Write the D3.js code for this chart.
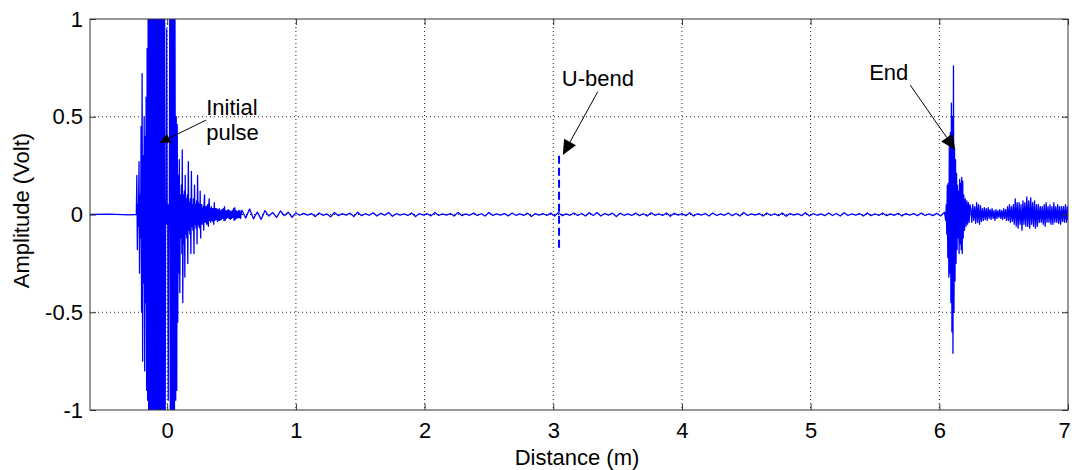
<!DOCTYPE html>
<html>
<head>
<meta charset="utf-8">
<script src="https://cdn.jsdelivr.net/npm/d3@7"></script>
<style>
  body { margin: 0; background: #fff; }
  text { font-family: "Liberation Sans", Arial, sans-serif; fill: #000; }
</style>
</head>
<body>
<div class="chart"></div>
<script>
// axis setup
var xDomain = [-0.6, 7];
var yDomain = [-1, 1];
var xTicks = [0, 1, 2, 3, 4, 5, 6, 7];
var yTicks = [-1, -0.5, 0, 0.5, 1];
var yTickLabels = ["-1", "-0.5", "0", "0.5", "1"];

// signal pieces, [distance (m), amplitude (V)]
var quiet = [[-0.6, 0], [-0.45, 0.002], [-0.3, -0.002], [-0.24, 0]];

var initialPulse = [
  [-0.236, 0.20], [-0.232, -0.18], [-0.228, 0.05], [-0.224, -0.06], [-0.219, 0.27], [-0.215, -0.30],
  [-0.211, 0.10], [-0.207, -0.12], [-0.203, 0.45], [-0.199, -0.50], [-0.195, 0.72], [-0.191, -0.75],
  [-0.187, 0.30], [-0.183, -0.35], [-0.179, 0.50], [-0.175, -0.80], [-0.171, 0.40], [-0.167, -0.45],
  [-0.164, 0.60], [-0.160, -0.90], [-0.156, 0.85], [-0.152, -0.95],
  [-0.148, 1.1], [-0.144, -1.1], [-0.140, 1.1], [-0.136, -1.1], [-0.132, 1.1], [-0.128, -1.1],
  [-0.124, 1.1], [-0.120, -1.1], [-0.116, 1.1], [-0.112, -1.1], [-0.108, 1.1], [-0.104, -1.1],
  [-0.100, 1.1], [-0.096, -1.1], [-0.092, 1.1], [-0.088, -1.1], [-0.084, 1.1], [-0.080, -1.1],
  [-0.076, 1.1], [-0.072, -1.1], [-0.068, 1.1], [-0.064, -1.1], [-0.060, 1.1], [-0.056, -1.1],
  [-0.052, 1.1], [-0.048, -1.1], [-0.044, 1.1], [-0.040, -1.1], [-0.036, 1.1], [-0.032, -1.1],
  [-0.028, 1.1], [-0.024, -1.1], [-0.020, 1.1], [-0.016, -1.1],
  [-0.012, 0.05], [-0.008, -0.05], [-0.004, 0.95], [0.000, -0.05], [0.004, 0.05], [0.008, -0.95],
  [0.012, 0.05], [0.016, -0.05],
  [0.020, 1.1], [0.024, -1.1], [0.028, 1.1], [0.032, -1.1], [0.036, 1.1], [0.040, -1.1],
  [0.044, 1.1], [0.048, -1.1], [0.052, 1.1], [0.056, -1.1], [0.060, 1.1],
  [0.066, -0.95], [0.070, 0.50], [0.074, -0.90], [0.078, 0.46], [0.082, -0.55], [0.086, 0.20],
  [0.090, -0.30], [0.094, 0.28], [0.098, -0.40], [0.102, 0.10], [0.106, -0.12], [0.110, 0.15],
  [0.114, -0.20], [0.117, 0.33], [0.121, -0.45], [0.125, 0.10], [0.129, -0.15], [0.133, 0.12],
  [0.137, -0.32], [0.140, 0.20], [0.144, -0.10], [0.148, 0.08], [0.152, -0.12], [0.156, 0.10],
  [0.160, -0.25], [0.164, 0.27], [0.168, -0.08], [0.172, 0.06], [0.176, -0.10], [0.180, 0.08],
  [0.184, -0.20], [0.188, 0.22], [0.192, -0.06], [0.196, 0.05], [0.200, -0.08], [0.204, 0.08],
  [0.208, -0.20], [0.212, 0.15], [0.216, -0.05], [0.220, 0.05], [0.224, -0.07], [0.228, 0.07],
  [0.232, -0.15], [0.236, 0.20], [0.240, -0.05], [0.243, 0.06], [0.246, -0.06], [0.250, 0.05],
  [0.253, -0.07], [0.256, 0.12], [0.260, -0.12], [0.263, 0.05], [0.266, -0.04], [0.269, 0.05],
  [0.272, -0.05], [0.275, 0.03], [0.278, -0.04], [0.281, 0.04], [0.284, -0.08], [0.287, 0.06],
  [0.290, 0.10], [0.293, -0.04], [0.296, -0.04], [0.299, 0.03], [0.302, 0.04], [0.305, -0.03],
  [0.308, -0.05], [0.311, 0.04], [0.314, 0.05], [0.317, -0.03], [0.320, -0.06], [0.323, 0.05],
  [0.326, 0.08], [0.330, -0.03], [0.334, 0.03], [0.338, -0.04], [0.342, 0.04], [0.346, -0.03],
  [0.350, 0.03], [0.354, -0.035], [0.358, 0.03], [0.362, -0.05], [0.366, 0.06], [0.370, -0.03],
  [0.375, 0.03], [0.380, -0.025], [0.385, 0.03], [0.390, -0.035], [0.395, 0.025], [0.400, -0.03],
  [0.405, 0.03], [0.410, -0.03], [0.415, 0.02], [0.420, -0.025], [0.425, 0.025], [0.430, -0.02],
  [0.435, 0.03], [0.440, -0.03], [0.445, 0.04], [0.450, -0.03], [0.455, 0.02], [0.460, -0.02],
  [0.465, 0.02], [0.470, -0.015], [0.475, 0.025], [0.480, -0.02], [0.485, 0.02], [0.490, -0.025],
  [0.495, 0.015], [0.500, -0.02], [0.505, 0.02], [0.510, -0.015], [0.515, 0.03], [0.520, -0.03],
  [0.525, 0.035], [0.530, -0.025], [0.535, 0.02], [0.540, -0.018], [0.545, 0.015], [0.550, -0.018],
  [0.555, 0.02], [0.560, -0.015], [0.565, 0.02], [0.570, -0.02]
];

var travel = [
  [0.58, 0.022], [0.61, -0.018], [0.64, 0.028], [0.67, -0.022], [0.70, 0.012], [0.73, -0.025], [0.76, 0.020], [0.79, -0.008], [0.82, 0.010], [0.85, -0.015],
  [0.88, 0.018], [0.91, -0.006], [0.94, 0.012], [0.97, -0.014], [1.00, 0.008], [1.03, -0.004], [1.06, 0.006], [1.09, -0.003], [1.12, 0.005], [1.15, -0.010],
  [1.18, 0.008], [1.21, -0.004], [1.24, 0.003], [1.27, -0.012], [1.30, 0.010], [1.33, -0.006], [1.36, 0.004], [1.39, -0.003], [1.42, 0.007], [1.45, -0.010],
  [1.48, 0.012], [1.51, -0.006], [1.54, 0.004], [1.57, -0.004], [1.60, 0.009], [1.63, -0.008], [1.66, 0.006], [1.69, -0.004], [1.72, 0.010], [1.75, -0.009],
  [1.78, 0.004], [1.81, -0.003], [1.84, 0.003], [1.87, -0.005], [1.90, 0.008], [1.93, -0.010], [1.96, 0.005], [1.99, -0.003], [2.02, 0.004], [2.05, -0.007],
  [2.08, 0.010], [2.11, -0.005], [2.14, 0.003], [2.17, -0.003], [2.20, 0.005], [2.23, -0.008], [2.26, 0.011], [2.29, -0.006], [2.32, 0.003], [2.35, -0.004],
  [2.38, 0.007], [2.41, -0.005], [2.44, 0.004], [2.47, -0.008], [2.50, 0.010], [2.53, -0.005], [2.56, 0.003], [2.59, -0.003], [2.62, 0.005], [2.65, -0.007],
  [2.68, 0.008], [2.71, -0.004], [2.74, 0.003], [2.77, -0.005], [2.80, 0.007], [2.83, -0.010], [2.86, 0.005], [2.89, -0.003], [2.92, 0.005], [2.95, -0.005],
  [2.98, 0.007], [3.01, -0.008], [3.04, 0.010], [3.07, -0.006], [3.10, 0.003], [3.13, -0.004], [3.16, 0.008], [3.19, -0.005], [3.22, 0.005], [3.25, -0.008],
  [3.28, 0.009], [3.31, -0.005], [3.34, 0.010], [3.37, -0.008], [3.40, 0.005], [3.43, -0.003], [3.46, 0.007], [3.49, -0.010], [3.52, 0.006], [3.55, -0.004],
  [3.58, 0.003], [3.61, -0.005], [3.64, 0.008], [3.67, -0.006], [3.70, 0.004], [3.73, -0.008], [3.76, 0.009], [3.79, -0.004], [3.82, 0.003], [3.85, -0.005],
  [3.88, 0.008], [3.91, -0.009], [3.94, 0.006], [3.97, -0.003], [4.00, 0.005], [4.03, -0.006], [4.06, 0.009], [4.09, -0.008], [4.12, 0.004], [4.15, -0.003],
  [4.18, 0.005], [4.21, -0.008], [4.24, 0.008], [4.27, -0.005], [4.30, 0.003], [4.33, -0.004], [4.36, 0.008], [4.39, -0.006], [4.42, 0.005], [4.45, -0.008],
  [4.48, 0.010], [4.51, -0.005], [4.54, 0.003], [4.57, -0.003], [4.60, 0.005], [4.63, -0.008], [4.66, 0.008], [4.69, -0.005], [4.72, 0.004], [4.75, -0.006],
  [4.78, 0.008], [4.81, -0.009], [4.84, 0.005], [4.87, -0.003], [4.90, 0.004], [4.93, -0.006], [4.96, 0.009], [4.99, -0.008], [5.02, 0.005], [5.05, -0.004],
  [5.08, 0.003], [5.11, -0.006], [5.14, 0.008], [5.17, -0.005], [5.20, 0.005], [5.23, -0.008], [5.26, 0.009], [5.29, -0.005], [5.32, 0.003], [5.35, -0.003],
  [5.38, 0.005], [5.41, -0.008], [5.44, 0.008], [5.47, -0.006], [5.50, 0.004], [5.53, -0.005], [5.56, 0.008], [5.59, -0.006], [5.62, 0.003], [5.65, -0.004],
  [5.68, 0.006], [5.71, -0.008], [5.74, 0.005], [5.77, -0.003], [5.80, 0.005], [5.83, -0.006], [5.86, 0.008], [5.89, -0.005], [5.92, 0.003], [5.95, -0.006],
  [5.98, 0.006], [6.01, -0.008], [6.04, 0.012]
];

var endEcho = [
  [6.050, -0.03], [6.054, 0.05], [6.058, -0.10], [6.062, 0.15], [6.066, -0.22], [6.070, 0.16],
  [6.074, -0.32], [6.078, 0.40], [6.082, -0.30], [6.086, 0.42], [6.090, -0.45], [6.094, 0.57],
  [6.098, -0.60], [6.102, 0.50], [6.106, -0.71], [6.110, 0.76], [6.114, -0.50], [6.118, 0.33],
  [6.122, -0.34], [6.126, 0.28], [6.130, -0.25], [6.134, 0.21], [6.138, -0.18], [6.142, 0.15],
  [6.146, -0.12], [6.150, 0.12], [6.154, -0.20], [6.158, 0.18], [6.162, -0.15], [6.166, 0.16],
  [6.170, -0.18], [6.174, 0.19], [6.178, -0.20], [6.182, 0.17], [6.186, -0.12], [6.190, 0.10],
  [6.196, -0.08], [6.202, 0.08], [6.208, -0.06], [6.214, 0.07], [6.220, -0.05], [6.226, 0.06],
  [6.232, -0.04], [6.238, 0.05]
];

var tail = [
  [6.245, 0.03], [6.2525, -0.04], [6.26, 0.05], [6.2675, -0.03], [6.275, 0.04], [6.2825, -0.045], [6.29, 0.06], [6.2975, -0.04],
  [6.305, 0.05], [6.3125, -0.05], [6.32, 0.045], [6.3275, -0.035], [6.335, 0.03], [6.3425, -0.03], [6.35, 0.035], [6.3575, -0.025],
  [6.365, 0.03], [6.3725, -0.03], [6.38, 0.035], [6.3875, -0.02], [6.395, 0.025], [6.4025, -0.025], [6.41, 0.03], [6.4175, -0.02],
  [6.425, 0.02], [6.4325, -0.03], [6.44, 0.025], [6.4475, -0.02], [6.455, 0.02], [6.4625, -0.015], [6.47, 0.025], [6.4775, -0.02],
  [6.485, 0.02], [6.4925, -0.025], [6.50, 0.03], [6.5075, -0.02], [6.515, 0.025], [6.5225, -0.03], [6.53, 0.04], [6.5375, -0.03],
  [6.545, 0.05], [6.5525, -0.04], [6.56, 0.04], [6.5675, -0.035], [6.575, 0.05], [6.5825, -0.05], [6.59, 0.08], [6.5975, -0.06],
  [6.605, 0.06], [6.6125, -0.07], [6.62, 0.06], [6.6275, -0.05], [6.635, 0.05], [6.6425, -0.08], [6.65, 0.07], [6.6575, -0.05],
  [6.665, 0.06], [6.6725, -0.06], [6.68, 0.09], [6.6875, -0.06], [6.695, 0.07], [6.7025, -0.07], [6.71, 0.085], [6.7175, -0.05],
  [6.725, 0.06], [6.7325, -0.06], [6.74, 0.07], [6.7475, -0.07], [6.755, 0.05], [6.7625, -0.06], [6.77, 0.05], [6.7775, -0.04],
  [6.785, 0.04], [6.7925, -0.04], [6.80, 0.04], [6.8075, -0.05], [6.815, 0.05], [6.8225, -0.06], [6.83, 0.06], [6.8375, -0.04],
  [6.845, 0.04], [6.8525, -0.04], [6.86, 0.05], [6.8675, -0.05], [6.875, 0.04], [6.8825, -0.05], [6.89, 0.06], [6.8975, -0.04],
  [6.905, 0.04], [6.9125, -0.04], [6.92, 0.05], [6.9275, -0.045], [6.935, 0.04], [6.9425, -0.05], [6.95, 0.04], [6.9575, -0.035],
  [6.965, 0.04], [6.9725, -0.04], [6.98, 0.05], [6.9875, -0.04], [6.995, 0.04], [7.0, -0.03]
];

// dashed U-bend echo
var ubendDist = 3.045;
var ubendAmp = [0.30, -0.18];

// annotation labels: text anchor, arrow tail and tip in data units
var annotations = [
  { lines: ["Initial", "pulse"], at: [0.303, 0.509], tail: [0.303, 0.483], tip: [-0.062, 0.366], head: 11 },
  { lines: ["U-bend"], at: [3.066, 0.657], tail: [3.346, 0.628], tip: [3.074, 0.304], head: 15 },
  { lines: ["End"], at: [5.455, 0.688], tail: [5.774, 0.662], tip: [6.125, 0.330], head: 15 }
];

var W = 1072, H = 470;
var margin = { left: 90, top: 19, right: 4, bottom: 60 };
var width = W - margin.left - margin.right,
    height = H - margin.top - margin.bottom;

var svg = d3.select(".chart").append("svg")
  .attr("width", W)
  .attr("height", H);

var g = svg.append("g")
  .attr("transform", "translate(" + margin.left + "," + margin.top + ")");

var x = d3.scaleLinear().domain(xDomain).range([0, width]);
var y = d3.scaleLinear().domain(yDomain).range([height, 0]);

svg.append("defs").append("clipPath").attr("id", "plotclip")
  .append("rect").attr("width", width).attr("height", height);

/* ------- GRID -------*/
g.append("g").attr("class", "grid")
  .selectAll("line.gx")
  .data(xTicks.filter(function (d) { return d < xDomain[1]; }))
  .enter().append("line")
  .attr("x1", function (d) { return x(d); })
  .attr("x2", function (d) { return x(d); })
  .attr("y1", 0).attr("y2", height)
  .attr("stroke", "#222").attr("stroke-dasharray", "1,3");

g.append("g").attr("class", "grid")
  .selectAll("line.gy")
  .data(yTicks.filter(function (d) { return d > yDomain[0] && d < yDomain[1]; }))
  .enter().append("line")
  .attr("y1", function (d) { return y(d); })
  .attr("y2", function (d) { return y(d); })
  .attr("x1", 0).attr("x2", width)
  .attr("stroke", "#222").attr("stroke-dasharray", "1,3");

/* ------- SIGNAL -------*/
var signal = quiet.concat(initialPulse, travel, endEcho, tail);

var line = d3.line()
  .x(function (d) { return x(d[0]); })
  .y(function (d) { return y(d[1]); });

var plot = g.append("g").attr("clip-path", "url(#plotclip)");

plot.append("path")
  .datum(signal)
  .attr("d", line)
  .attr("fill", "none")
  .attr("stroke", "#0000ff")
  .attr("stroke-width", 1.3)
  .attr("stroke-linejoin", "round");

plot.append("path")
  .datum(ubendAmp.map(function (a) { return [ubendDist, a]; }))
  .attr("d", line)
  .attr("fill", "none")
  .attr("stroke", "#0000ff")
  .attr("stroke-width", 2)
  .attr("stroke-dasharray", "8,4");

/* ------- AXES -------*/
var fmtY = function (d) { return yTickLabels[yTicks.indexOf(d)]; };

var axes = [
  g.append("g").attr("class", "xaxis").attr("transform", "translate(0," + height + ")")
    .call(d3.axisBottom(x).tickValues(xTicks).tickSizeInner(-6).tickSizeOuter(0).tickPadding(12).tickFormat(d3.format("d"))),
  g.append("g")
    .call(d3.axisTop(x).tickValues(xTicks).tickSizeInner(-6).tickSizeOuter(0).tickFormat("")),
  g.append("g")
    .call(d3.axisLeft(y).tickValues(yTicks).tickSizeInner(-6).tickSizeOuter(0).tickPadding(7).tickFormat(fmtY)),
  g.append("g").attr("transform", "translate(" + width + ",0)")
    .call(d3.axisRight(y).tickValues(yTicks).tickSizeInner(-6).tickSizeOuter(0).tickFormat(""))
];
axes.forEach(function (a) {
  a.select(".domain").remove();
  a.selectAll(".tick line").attr("stroke", "#333");
  a.selectAll(".tick text").style("font-size", "22px").style("font-family", "Liberation Sans, Arial, sans-serif").attr("fill", "#000");
});
// last label sits at the page edge, nudge it inside
g.select(".xaxis").selectAll(".tick text")
  .filter(function (d) { return d === xDomain[1]; })
  .attr("dx", -4);

g.append("rect")
  .attr("width", width).attr("height", height)
  .attr("fill", "none").attr("stroke", "#333").attr("stroke-width", 1);

/* ------- LABELS -------*/
svg.append("text")
  .attr("x", margin.left + width / 2 - 2)
  .attr("y", 465)
  .attr("text-anchor", "middle")
  .style("font-size", "22px")
  .text("Distance (m)");

svg.append("text")
  .attr("transform", "translate(29," + (margin.top + height / 2 - 4) + ") rotate(-90)")
  .attr("text-anchor", "middle")
  .style("font-size", "22px")
  .text("Amplitude (Volt)");

/* ------- ANNOTATIONS -------*/
var notes = g.append("g").attr("class", "notes");

annotations.forEach(function (a) {
  var t = notes.append("text")
    .attr("x", x(a.at[0]))
    .attr("y", y(a.at[1]))
    .style("font-size", "22px");
  a.lines.forEach(function (s, i) {
    t.append("tspan").attr("x", x(a.at[0])).attr("dy", i === 0 ? 0 : 25).text(s);
  });

  var x0 = x(a.tail[0]), y0 = y(a.tail[1]), x1 = x(a.tip[0]), y1 = y(a.tip[1]);
  var ang = Math.atan2(y1 - y0, x1 - x0);
  var L = a.head, Wd = a.head * 0.45;
  var bx = x1 - L * Math.cos(ang), by = y1 - L * Math.sin(ang);
  notes.append("line")
    .attr("x1", x0).attr("y1", y0).attr("x2", bx).attr("y2", by)
    .attr("stroke", "#000").attr("stroke-width", 1);
  notes.append("path")
    .attr("d", "M" + x1 + "," + y1 +
      "L" + (bx + Wd * Math.sin(ang)) + "," + (by - Wd * Math.cos(ang)) +
      "L" + (bx - Wd * Math.sin(ang)) + "," + (by + Wd * Math.cos(ang)) + "Z")
    .attr("fill", "#000");
});
</script>
</body>
</html>
